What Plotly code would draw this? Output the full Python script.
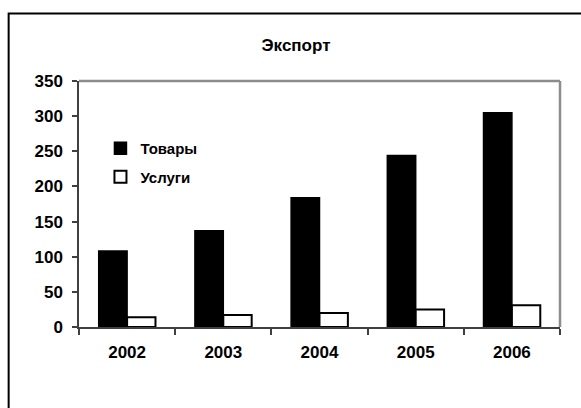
import plotly.graph_objects as go

years = ["2002", "2003", "2004", "2005", "2006"]
goods = [108, 137, 184, 244, 305]
services = [14, 17, 20, 25, 31]
title_text = "Экспорт"
goods_name = "Товары"
services_name = "Услуги"
y_ticks = [0, 50, 100, 150, 200, 250, 300, 350]

FONT = "Liberation Sans, Arial, sans-serif"

fig = go.Figure()
fig.add_trace(go.Bar(
    x=years, y=goods, name=goods_name, legendgroup="g",
    marker=dict(color="black", line=dict(color="black", width=1.5)),
))
fig.add_trace(go.Bar(
    x=years, y=services, name=services_name, legendgroup="s",
    marker=dict(color="white", line=dict(color="black", width=2)),
))

W, H = 581, 408
ml, mr, mt, mb = 78.5, 20.5, 81, 81
pw = W - ml - mr
ph = H - mt - mb

def px_x(p):
    return (p - ml) / pw

def px_y(p):
    return (H - mb - p) / ph

fig.update_layout(
    width=W, height=H,
    margin=dict(l=ml, r=mr, t=mt, b=mb, autoexpand=False),
    paper_bgcolor="white", plot_bgcolor="white",
    barmode="group", bargap=0.41, bargroupgap=0,
    font=dict(family=FONT, size=17, color="black", weight="bold"),
    title=dict(text=title_text, x=296 / W, xref="container", xanchor="center",
               y=1 - 45 / H, yref="container", yanchor="middle",
               font=dict(family=FONT, size=17, color="black", weight="bold")),
    showlegend=True,
    legend=dict(x=px_x(100), y=px_y(132), xanchor="left", yanchor="top",
                bgcolor="rgba(0,0,0,0)", borderwidth=0,
                tracegroupgap=6, itemwidth=30,
                font=dict(family=FONT, size=15, color="black", weight="bold")),
    xaxis=dict(type="category", showline=True, linecolor="#404040", linewidth=1.5,
               ticks="outside", tickson="boundaries", ticklen=6, tickcolor="#404040",
               tickwidth=1.5, showgrid=False, zeroline=False,
               ticklabelstandoff=9,
               tickfont=dict(family=FONT, size=17, color="black", weight="bold")),
    yaxis=dict(range=[0, 350], tickvals=y_ticks, showline=True, linecolor="#404040",
               linewidth=1.5, ticks="outside", ticklen=5, tickcolor="#404040",
               tickwidth=1.5, showgrid=False, zeroline=False,
               ticklabelstandoff=6,
               tickfont=dict(family=FONT, size=17, color="black", weight="bold")),
    shapes=[
        # plot area border (top and right)
        dict(type="line", xref="paper", yref="paper", x0=0, x1=1, y0=1, y1=1,
             line=dict(color="#8c8c8c", width=2.5)),
        dict(type="line", xref="paper", yref="paper", x0=1, x1=1, y0=0, y1=1,
             line=dict(color="#8c8c8c", width=2.5)),
        # outer chart frame
        dict(type="rect", xref="paper", yref="paper",
             x0=px_x(8), x1=px_x(585), y0=px_y(413), y1=px_y(13.5),
             line=dict(color="black", width=2), layer="above"),
    ],
)

fig.write_html("out.html",
               config={"displayModeBar": False},
               post_script="document.body.style.margin='0';document.body.style.overflow='hidden';")
